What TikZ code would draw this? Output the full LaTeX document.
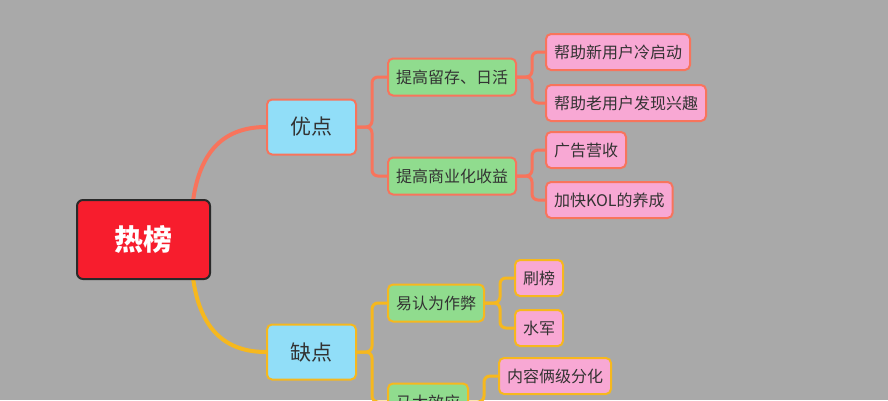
\documentclass[tikz,border=0pt]{standalone}
\usepackage{fontspec}
\setmainfont{Noto Sans CJK SC}
\usetikzlibrary{calc}
\usetikzlibrary{positioning}
\definecolor{bggray}{RGB}{169,169,169}
\definecolor{salmon}{RGB}{248,116,92}
\definecolor{amber}{RGB}{246,184,30}
\definecolor{rootred}{RGB}{247,29,45}
\definecolor{skyblue}{RGB}{145,222,248}
\definecolor{leafgreen}{RGB}{144,220,142}
\definecolor{leafpink}{RGB}{248,168,212}
\definecolor{ink}{RGB}{51,51,51}

\begin{document}
\begin{tikzpicture}[x=1pt,y=-1pt,
    root/.style={draw=ink!80!black,fill=rootred,line width=2pt,rounded corners=6pt,
        minimum width=133pt,minimum height=79pt,text=white,font=\fontsize{29}{30}\selectfont\bfseries},
    side/.style={fill=skyblue,line width=2pt,rounded corners=5pt,minimum width=89pt,
        minimum height=55pt,text=ink,font=\fontsize{21}{22}\selectfont},
    mid/.style={fill=leafgreen,line width=2pt,rounded corners=5pt,inner xsep=8pt,
        minimum height=37pt,text=ink,font=\fontsize{16}{17}\selectfont,anchor=west},
    leaf/.style={fill=leafpink,line width=2pt,rounded corners=5pt,inner xsep=8pt,
        minimum height=36pt,text=ink,font=\fontsize{16}{17}\selectfont,anchor=west},
    link/.style={line width=3pt,rounded corners=6pt},
    trunk/.style={line width=4pt},
]
    \clip (0,0) rectangle (888,400);
    \fill[bggray] (0,0) rectangle (888,400);

    % pros
    \node[side,draw=salmon] (pros) at (311.5,127) {优点};
    \node[mid,draw=salmon] (retain) at (387,77) {提高留存、日活};
    \node[mid,draw=salmon] (revenue) at (387,176) {提高商业化收益};
    \node[leaf,draw=salmon] (newuser) at (545,52) {帮助新用户冷启动};
    \node[leaf,draw=salmon] (olduser) at (545,103) {帮助老用户发现兴趣};
    \node[leaf,draw=salmon] (ads) at (545,150) {广告营收};
    \node[leaf,draw=salmon] (kol) at (545,200) {加快KOL的养成};

    % cons
    \node[side,draw=amber] (cons) at (311.5,352) {缺点};
    \node[mid,draw=amber] (cheat) at (387,303) {易认为作弊};
    \node[mid,draw=amber] (matthew) at (387,402) {马太效应};
    \node[leaf,draw=amber] (brush) at (514,278) {刷榜};
    \node[leaf,draw=amber] (troll) at (514,328) {水军};
    \node[leaf,draw=amber] (split) at (498,376) {内容俩级分化};

    \draw[salmon,trunk] (193,201) .. controls (200,150) and (225,127) .. (pros.west);
    \draw[amber,trunk] (193,278) .. controls (200,329) and (225,352) .. (cons.west);

    \node[root] (hot) at (143.5,239.5) {热榜};

    \foreach \c in {retain,revenue}
        \draw[salmon,link] (pros.east) -- ++(15,0) |- (\c.west);
    \foreach \c in {newuser,olduser}
        \draw[salmon,link] (retain.east) -- ++(15,0) |- (\c.west);
    \foreach \c in {ads,kol}
        \draw[salmon,link] (revenue.east) -- ++(15,0) |- (\c.west);
    \foreach \c in {cheat,matthew}
        \draw[amber,link] (cons.east) -- ++(15,0) |- (\c.west);
    \foreach \c in {brush,troll}
        \draw[amber,link] (cheat.east) -- ++(15,0) |- (\c.west);
    \draw[amber,link] (matthew.east) -- ++(15,0) |- (split.west);
\end{tikzpicture}
\end{document}
